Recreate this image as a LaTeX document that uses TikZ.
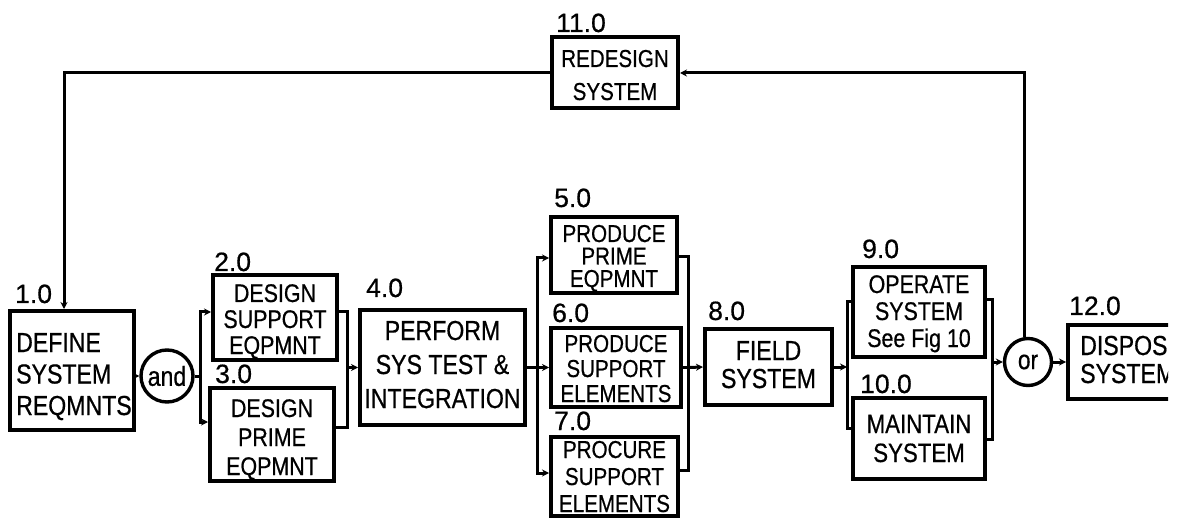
\documentclass[tikz,border=0pt]{standalone}
\usepackage{fontspec}
\setmainfont{Liberation Sans}[FakeStretch=0.84,FakeBold=0.6]
\newfontfamily\labfont{Liberation Sans}[FakeBold=0.6]
\usetikzlibrary{arrows.meta}
\tikzset{
  box/.style={draw, line width=4pt, inner sep=0pt},
  conn/.style={line width=3pt},
  arr/.style={conn, -{Stealth[length=7pt,width=7pt]}},
  gate/.style={circle, draw, line width=3.4pt, inner sep=0pt},
  num/.style={anchor=base west, inner sep=0pt, font=\labfont\fontsize{26.5}{26.5}\selectfont},
  txt/.style={anchor=base, inner sep=0pt, align=center},
  ltxt/.style={anchor=base west, inner sep=0pt, align=left},
}
\begin{document}
\begin{tikzpicture}[x=1pt,y=-1pt]
\useasboundingbox (0,0) rectangle (1185,518);
% boxes
\node[box, minimum width=124pt, minimum height=119pt] (n1) at (72,370.5) {};
\node[box, minimum width=124pt, minimum height=85pt] (n2) at (275,317.5) {};
\node[box, minimum width=124pt, minimum height=93pt] (n3) at (272,434.5) {};
\node[box, minimum width=165pt, minimum height=115pt] (n4) at (442.5,367.5) {};
\node[box, minimum width=126pt, minimum height=76pt] (n5) at (614,255) {};
\node[box, minimum width=130pt, minimum height=79pt] (n6) at (616,367.5) {};
\node[box, minimum width=127pt, minimum height=79pt] (n7) at (614.5,476.5) {};
\node[box, minimum width=127pt, minimum height=76pt] (n8) at (768.5,367) {};
\node[box, minimum width=132pt, minimum height=90pt] (n9) at (919,312) {};
\node[box, minimum width=132pt, minimum height=81pt] (n10) at (919,438.5) {};
\node[box, minimum width=126pt, minimum height=71pt] (n11) at (615,73) {};
\begin{scope}
\clip (0,0) rectangle (1168,518);
\node[box, minimum width=132pt, minimum height=73pt] (n12) at (1134,362) {};
\node[ltxt, font=\fontsize{27.5}{28}\selectfont] (t12) at (1080,383) {DISPOSE\\SYSTEM};
\end{scope}
% gates
\node[gate, minimum size=52pt, font=\fontsize{27.5}{27.5}\selectfont] (and) at (167,376) {and};
\node[gate, minimum size=47pt, font=\fontsize{27}{27}\selectfont] (or) at (1028,362) {or};
% box texts (anchor = baseline of last line)
\node[ltxt, font=\fontsize{27.5}{31.5}\selectfont] (t1) at (16,415) {DEFINE\\SYSTEM\\REQMNTS};
\node[txt, font=\fontsize{25.5}{26}\selectfont] (t2) at (275,354) {DESIGN\\SUPPORT\\EQPMNT};
\node[txt, font=\fontsize{25.5}{29}\selectfont] (t3) at (272,475) {DESIGN\\PRIME\\EQPMNT};
\node[txt, font=\fontsize{27.5}{34}\selectfont] (t4) at (442.5,408) {PERFORM\\SYS TEST \&\\INTEGRATION};
\node[txt, font=\fontsize{24.5}{22.5}\selectfont] (t5) at (614,287) {PRODUCE\\PRIME\\EQPMNT};
\node[txt, font=\fontsize{24.5}{25}\selectfont] (t6) at (616,402) {PRODUCE\\SUPPORT\\ELEMENTS};
\node[txt, font=\fontsize{24.5}{27}\selectfont] (t7) at (614.5,512) {PROCURE\\SUPPORT\\ELEMENTS};
\node[txt, font=\fontsize{27.5}{28}\selectfont] (t8) at (768.5,388) {FIELD\\SYSTEM};
\node[txt, font=\fontsize{25.5}{27}\selectfont] (t9) at (919,347) {OPERATE\\SYSTEM\\See Fig 10};
\node[txt, font=\fontsize{26.5}{29}\selectfont] (t10) at (919,462) {MAINTAIN\\SYSTEM};
\node[txt, font=\fontsize{24.5}{33}\selectfont] (t11) at (615,100) {REDESIGN\\SYSTEM};
% numbers
\node[num] (l1) at (15,303) {1.0};
\node[num] (l2) at (214,271) {2.0};
\node[num] (l3) at (215,383) {3.0};
\node[num] (l4) at (366,297) {4.0};
\node[num] (l5) at (554,207) {5.0};
\node[num] (l6) at (552,322) {6.0};
\node[num] (l7) at (554,430) {7.0};
\node[num] (l8) at (708,320) {8.0};
\node[num] (l9) at (862,258) {9.0};
\node[num] (l10) at (860,393) {10.0};
\node[num] (l11) at (556,32) {11.0};
\node[num] (l12) at (1069,315) {12.0};
% coordinates
\coordinate (f1) at (200,376);
\coordinate (j1) at (347,367.5);
\coordinate (f2) at (537,367.5);
\coordinate (j2) at (688,367.5);
\coordinate (f3) at (847,367);
\coordinate (j3) at (992,362);
% connectors
\draw[arr] (n1.east |- and.west) -- (and.west);
\draw[conn] (and.east) -- (f1);
\draw[arr] (f1) |- ([yshift=5.5pt]n2.west);
\draw[arr] (f1) |- ([yshift=12.5pt]n3.west);
\draw[conn] ([yshift=5.5pt]n2.east) -| (j1) |- ([yshift=7.5pt]n3.east);
\draw[arr] (j1) -- (n4.west);
\draw[conn] (n4.east) -- (f2);
\draw[arr] (f2) |- ([yshift=-3pt]n5.west);
\draw[arr] (f2) -- (n6.west);
\draw[arr] (f2) |- ([yshift=3.5pt]n7.west);
\draw[conn] ([yshift=-2pt]n5.east) -| (j2) |- ([yshift=6.5pt]n7.east);
\draw[conn] (n6.east) -- (j2);
\draw[arr] (j2) -- (n8.west);
\draw[arr] (n8.east) -- (f3);
\draw[conn] (f3) |- ([yshift=10pt]n9.west);
\draw[conn] (f3) |- ([yshift=10.5pt]n10.west);
\draw[conn] ([yshift=12pt]n9.east) -| (j3) |- ([yshift=-0.5pt]n10.east);
\draw[arr] (j3) -- (or.west);
\draw[arr] (or.east) -- (n12.west);
\draw[arr] ([xshift=-4pt]or.north) |- (n11.east);
\draw[arr] (n11.west) -| ([xshift=-8pt]n1.north);
\end{tikzpicture}
\end{document}
